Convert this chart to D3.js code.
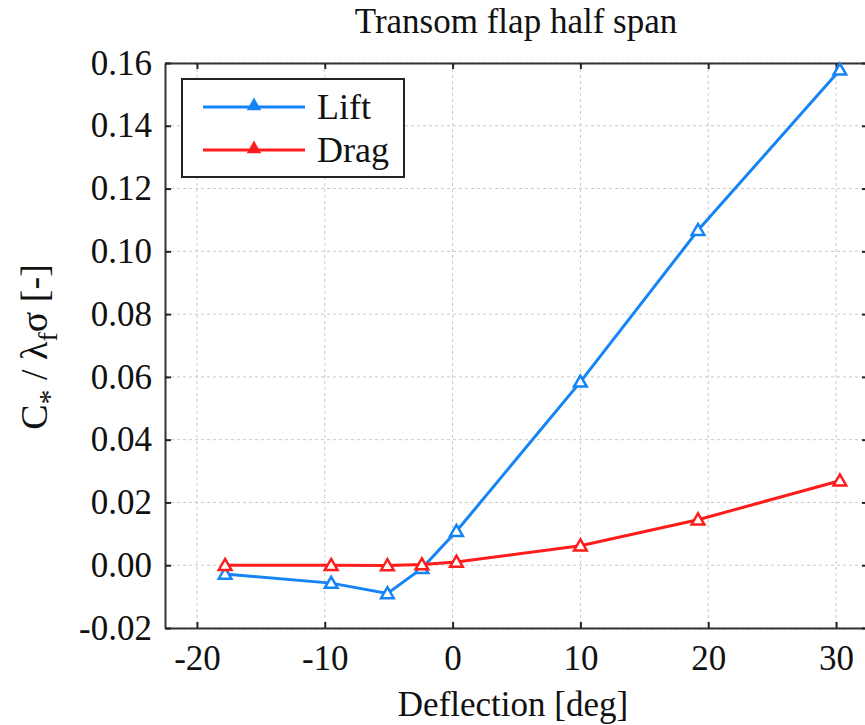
<!DOCTYPE html>
<html>
<head>
<meta charset="utf-8">
<script src="https://cdn.jsdelivr.net/npm/d3@7"></script>
<style>
  body { margin: 0; background: #fff; }
  svg text { font-family: "Liberation Serif", "Times New Roman", serif; fill: #111; }
</style>
</head>
<body>
<svg id="chart" width="865" height="725"></svg>
<script>
// Flap deflection angles [deg] and normalised force coefficients
const liftDeflection = [-17.8, -9.5, -5.1, -2.4, 0.3, 10.0, 19.2, 30.3];
const liftValues     = [-0.0028, -0.0057, -0.0090, -0.0010, 0.0108, 0.0584, 0.1067, 0.1578];
const dragDeflection = [-17.8, -9.5, -5.1, -2.4, 0.3, 10.0, 19.2, 30.3];
const dragValues     = [0.0000, 0.0000, -0.0001, 0.0002, 0.0010, 0.0062, 0.0145, 0.0269];

const xTicks = [-20, -10, 0, 10, 20, 30];
const yTicks = [-0.02, 0.00, 0.02, 0.04, 0.06, 0.08, 0.10, 0.12, 0.14, 0.16];

const series = [
  { name: "Lift", color: "#1584F5", x: liftDeflection, y: liftValues },
  { name: "Drag", color: "#FF1C1C", x: dragDeflection, y: dragValues }
];

const serif = "'Liberation Serif', 'Times New Roman', serif";
const svg = d3.select("#chart");
const plotLeft = 165, plotRight = 868, plotTop = 63, plotBottom = 628;

const x = d3.scaleLinear().domain([-22.5, 32.5]).range([plotLeft, plotRight]);
const y = d3.scaleLinear().domain([-0.02, 0.16]).range([plotBottom, plotTop]);

// plain hyphen for negative tick labels
const fmtX = d => d3.format("d")(d).replace("−", "-");
const fmtY = d => d3.format(".2f")(d).replace("−", "-");

// grid
const grid = svg.append("g").attr("stroke", "#c8c8c8").attr("stroke-width", 1)
  .attr("stroke-dasharray", "3,3");
xTicks.forEach(t => grid.append("line")
  .attr("x1", x(t)).attr("x2", x(t)).attr("y1", plotTop).attr("y2", plotBottom));
yTicks.forEach(t => grid.append("line")
  .attr("x1", plotLeft).attr("x2", plotRight).attr("y1", y(t)).attr("y2", y(t)));

// axes with inward ticks
const xAxisB = d3.axisBottom(x).tickValues(xTicks).tickSizeInner(-6).tickSizeOuter(0).tickPadding(17)
  .tickFormat(fmtX);
const xAxisT = d3.axisTop(x).tickValues(xTicks).tickSizeInner(-6).tickSizeOuter(0).tickFormat("");
const yAxisL = d3.axisLeft(y).tickValues(yTicks).tickSizeInner(-6).tickSizeOuter(0).tickPadding(13)
  .tickFormat(fmtY);
const yAxisR = d3.axisRight(y).tickValues(yTicks).tickSizeInner(-6).tickSizeOuter(0).tickFormat("");

function styleAxis(g) {
  g.attr("font-family", serif);
  g.selectAll("path").attr("stroke", "#333").attr("stroke-width", 2);
  g.selectAll("line").attr("stroke", "#222").attr("stroke-width", 2);
  g.selectAll("text").style("font-family", serif).attr("font-size", 35).attr("fill", "#111");
}
svg.append("g").attr("transform", `translate(0,${plotBottom})`).call(xAxisB).call(styleAxis);
svg.append("g").attr("transform", `translate(0,${plotTop})`).call(xAxisT).call(styleAxis);
svg.append("g").attr("transform", `translate(${plotLeft},0)`).call(yAxisL).call(styleAxis);
svg.append("g").attr("transform", `translate(${plotRight},0)`).call(yAxisR).call(styleAxis);

// series lines and open triangle markers
const tri = d3.symbol().type(d3.symbolTriangle).size(70);
const line = d3.line().x(d => x(d[0])).y(d => y(d[1]));
series.forEach(s => {
  const pts = s.x.map((v, i) => [v, s.y[i]]);
  svg.append("path").datum(pts).attr("d", line)
    .attr("fill", "none").attr("stroke", s.color).attr("stroke-width", 3);
  svg.append("g").selectAll("path").data(pts).join("path")
    .attr("d", tri)
    .attr("transform", d => `translate(${x(d[0])},${y(d[1]) + 1})`)
    .attr("fill", "#fff").attr("stroke", s.color).attr("stroke-width", 2.5);
});

// legend
const lg = svg.append("g");
lg.append("rect").attr("x", 182).attr("y", 79).attr("width", 222).attr("height", 98)
  .attr("fill", "#fff").attr("stroke", "#222").attr("stroke-width", 2);
series.forEach((s, i) => {
  const ly = 107 + i * 43;
  lg.append("line").attr("x1", 203).attr("x2", 305).attr("y1", ly).attr("y2", ly)
    .attr("stroke", s.color).attr("stroke-width", 3);
  lg.append("path").attr("d", d3.symbol().type(d3.symbolTriangle).size(45)())
    .attr("transform", `translate(254,${ly - 1})`)
    .attr("fill", s.color).attr("stroke", s.color).attr("stroke-width", 2.5);
  lg.append("text").attr("x", 317).attr("y", ly + 12).attr("font-size", 36).text(s.name);
});

// title
svg.append("text").attr("x", 516).attr("y", 33).attr("text-anchor", "middle")
  .attr("font-size", 35).text("Transom flap half span");

// x label
svg.append("text").attr("x", 513).attr("y", 716).attr("text-anchor", "middle")
  .attr("font-size", 35).text("Deflection [deg]");

// y label with sub-scripts
const yl = svg.append("text").attr("transform", "translate(47,347) rotate(-90)")
  .attr("text-anchor", "middle").attr("font-size", 38);
yl.append("tspan").text("C");
yl.append("tspan").attr("dy", 12).attr("font-size", 30).text("*");
yl.append("tspan").attr("dy", -12).text(" / λ");
yl.append("tspan").attr("dy", 10).attr("font-size", 28).text("f");
yl.append("tspan").attr("dy", -10).text("σ [-]");
</script>
</body>
</html>
